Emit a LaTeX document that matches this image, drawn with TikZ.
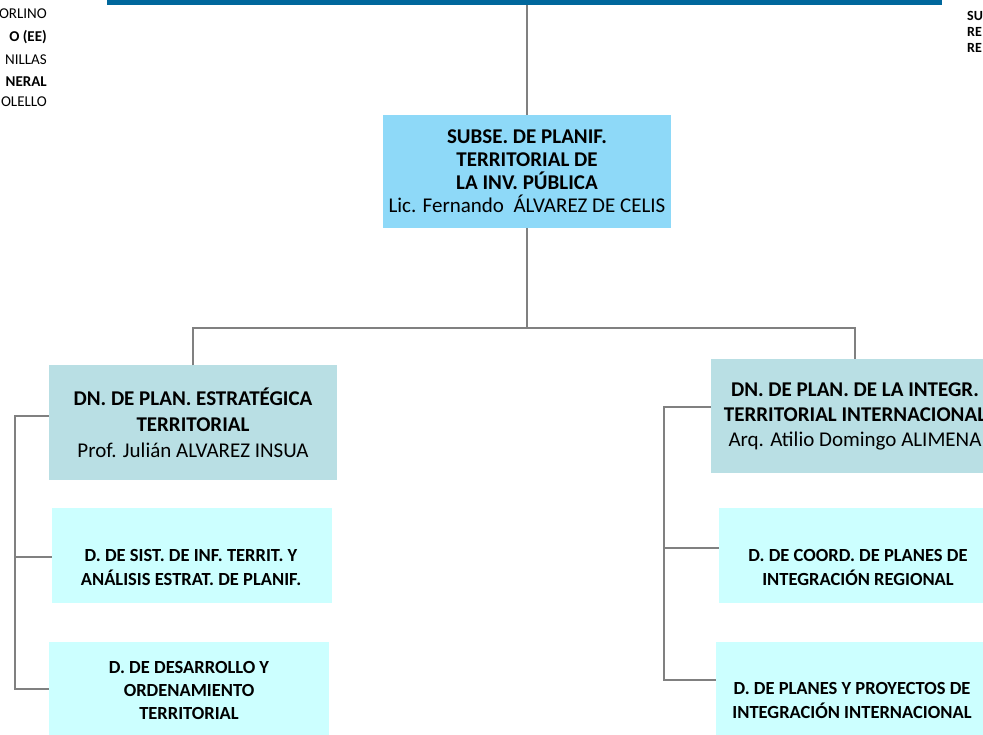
\documentclass[tikz,border=0pt]{standalone}
\usepackage{fontspec}
\setmainfont{Carlito}
\definecolor{barblue}{HTML}{00679C}
\definecolor{linegray}{HTML}{808080}
\definecolor{skyA}{HTML}{8ED9F8}
\definecolor{tealB}{HTML}{B9DFE4}
\definecolor{cyanC}{HTML}{CCFFFF}
\begin{document}
\begin{tikzpicture}[x=1pt,y=-1pt,
  conn/.style={draw=linegray, line width=2pt},
  boxsky/.style={fill=skyA, draw=none, inner sep=0pt, minimum width=288pt, minimum height=113pt, align=center, font=\fontsize{21}{23}\selectfont},
  boxdn/.style={fill=tealB, draw=none, inner sep=0pt, minimum width=288pt, minimum height=114pt, align=center},
  boxsub/.style={fill=cyanC, draw=none, inner sep=0pt, minimum width=280pt},
  subtxt/.style={align=center, inner sep=0pt, font=\fontsize{18.5}{24}\selectfont\bfseries},
  sidetxt/.style={inner sep=0pt, font=\fontsize{15}{15}\selectfont},
  righttxt/.style={inner sep=0pt, anchor=west, font=\fontsize{14}{14}\selectfont\bfseries}
]
\useasboundingbox (0,0) rectangle (983,735);
\fill[white] (0,0) rectangle (983,735);

% top bar
\node[fill=barblue, draw=none, inner sep=0pt, minimum width=835pt, minimum height=5pt, anchor=north west] (bar) at (107,0) {};

% side fragments left
\node[sidetxt, anchor=east] (l1) at (47,14) {ORLINO};
\node[sidetxt, anchor=east, font=\fontsize{15}{15}\selectfont\bfseries] (l2) at (47,37) {O (EE)};
\node[sidetxt, anchor=east] (l3) at (47,60) {NILLAS};
\node[sidetxt, anchor=east, font=\fontsize{15}{15}\selectfont\bfseries] (l4) at (47,82) {NERAL};
\node[sidetxt, anchor=east] (l5) at (47,102) {OLELLO};

% side fragments right
\node[righttxt] (r1) at (967,16) {SU};
\node[righttxt] (r2) at (967,32) {RE};
\node[righttxt] (r3) at (967,48) {RE};

% central box
\node[boxsky] (subse) at (527,171.5) {\textbf{SUBSE. DE PLANIF.}\\\textbf{TERRITORIAL DE}\\\textbf{LA INV. PÚBLICA}\\Lic. Fernando\ \ ÁLVAREZ DE CELIS};

% DN boxes
\node[boxdn, font=\fontsize{21}{26}\selectfont] (dnl) at (193,422.5) {\textbf{DN. DE PLAN. ESTRATÉGICA}\\\textbf{TERRITORIAL}\\Prof. Julián ALVAREZ INSUA};
\node[boxdn, font=\fontsize{21}{25}\selectfont] (dnr) at (855,416) {\textbf{DN. DE PLAN. DE LA INTEGR.}\\\textbf{TERRITORIAL INTERNACIONAL}\\Arq. Atilio Domingo ALIMENA};

% sub boxes left
\node[boxsub, minimum height=95pt, anchor=north west] (sl1) at (52,508) {};
\node[subtxt] (sl1t) at (191,567) {D. DE SIST. DE INF. TERRIT. Y\\ANÁLISIS ESTRAT. DE PLANIF.};
\node[boxsub, minimum height=100pt, anchor=north west] (sl2) at (49,642) {};
\node[subtxt, font=\fontsize{18.5}{23}\selectfont\bfseries] (sl2t) at (189,690) {D. DE DESARROLLO Y\\ORDENAMIENTO\\TERRITORIAL};

% sub boxes right
\node[boxsub, minimum height=95pt, anchor=north west] (sr1) at (719,508) {};
\node[subtxt] (sr1t) at (858,567) {D. DE COORD. DE PLANES DE\\INTEGRACIÓN REGIONAL};
\node[boxsub, minimum height=100pt, anchor=north west] (sr2) at (716,642) {};
\node[subtxt] (sr2t) at (852,700) {D. DE PLANES Y PROYECTOS DE\\INTEGRACIÓN INTERNACIONAL};

% connectors
\coordinate (hl) at (193,328);
\coordinate (hr) at (855,328);
\coordinate (hc) at (527,328);
\draw[conn] (bar.south -| subse.north) -- (subse.north);
\draw[conn] (subse.south) -- (hc);
\draw[conn] (dnl.north) -- (hl) -- (hr) -- (dnr.north);

\coordinate (lb1) at (15,416);
\coordinate (lb2) at (15,557);
\coordinate (lb3) at (15,689);
\draw[conn] (dnl.west |- lb1) -- (lb1) -- (lb3) -- (sl2.west |- lb3);
\draw[conn] (lb2) -- (sl1.west |- lb2);

\coordinate (rb1) at (664,407);
\coordinate (rb2) at (664,548);
\coordinate (rb3) at (664,680);
\draw[conn] (dnr.west |- rb1) -- (rb1) -- (rb3) -- (sr2.west |- rb3);
\draw[conn] (rb2) -- (sr1.west |- rb2);
\end{tikzpicture}
\end{document}
